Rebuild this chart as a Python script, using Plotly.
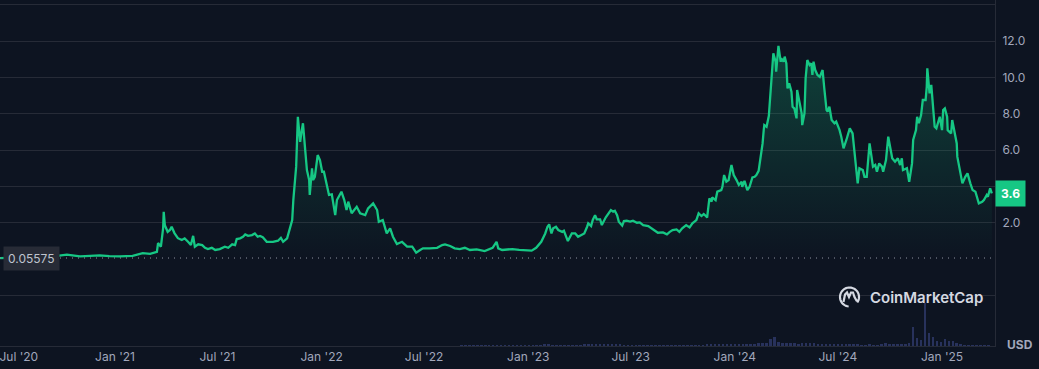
import numpy as np
import pandas as pd
import plotly.graph_objects as go

# ---------------- data ----------------
dates = [
 "2020-06-12","2020-06-28","2020-07-15","2020-08-05","2020-08-25","2020-09-14","2020-10-08","2020-10-31",
 "2020-11-18","2020-12-05","2020-12-22","2021-01-09","2021-02-01","2021-02-14","2021-02-19","2021-03-04",
 "2021-03-16","2021-03-18","2021-03-23","2021-03-27","2021-03-28","2021-03-30","2021-04-04","2021-04-08",
 "2021-04-11","2021-04-16","2021-04-22","2021-04-29","2021-05-04","2021-05-10","2021-05-15","2021-05-19",
 "2021-05-22","2021-05-28","2021-06-04","2021-06-09","2021-06-14","2021-06-21","2021-06-27","2021-07-05",
 "2021-07-14","2021-07-20","2021-07-27","2021-08-01","2021-08-04","2021-08-10","2021-08-15","2021-08-19",
 "2021-08-24","2021-08-31","2021-09-05","2021-09-10","2021-09-14","2021-09-19","2021-09-26","2021-10-07",
 "2021-10-16","2021-10-21","2021-10-25","2021-11-01","2021-11-04","2021-11-10","2021-11-12","2021-11-17",
 "2021-11-20","2021-11-24","2021-11-27","2021-11-29","2021-12-03","2021-12-06","2021-12-10","2021-12-11",
 "2021-12-15","2021-12-17","2021-12-20","2021-12-25","2021-12-29","2022-01-02","2022-01-05","2022-01-10",
 "2022-01-14","2022-01-19","2022-01-25","2022-01-28","2022-02-02","2022-02-05","2022-02-10","2022-02-14",
 "2022-02-17","2022-02-23","2022-03-04","2022-03-10","2022-03-19","2022-03-24","2022-04-02","2022-04-09",
 "2022-04-12","2022-04-19","2022-04-26","2022-05-02","2022-05-07","2022-05-14","2022-05-23","2022-06-01",
 "2022-06-10","2022-06-17","2022-06-24","2022-06-29","2022-07-11","2022-07-24","2022-08-02","2022-08-07",
 "2022-08-16","2022-08-24","2022-09-02","2022-09-11","2022-09-20","2022-10-02","2022-10-16","2022-10-25",
 "2022-10-30","2022-11-06","2022-11-09","2022-11-16","2022-11-25","2022-12-04","2022-12-16","2022-12-29",
 "2023-01-07","2023-01-15","2023-01-24","2023-01-31","2023-02-04","2023-02-07","2023-02-11","2023-02-14",
 "2023-02-19","2023-02-23","2023-03-02","2023-03-05","2023-03-09","2023-03-12","2023-03-19","2023-03-25",
 "2023-03-30","2023-04-06","2023-04-10","2023-04-15","2023-04-17","2023-04-22","2023-04-25","2023-04-29",
 "2023-05-02","2023-05-08","2023-05-11","2023-05-18","2023-05-22","2023-05-27","2023-05-31","2023-06-03",
 "2023-06-07","2023-06-10","2023-06-16","2023-06-19","2023-06-24","2023-06-30","2023-07-05","2023-07-12",
 "2023-07-17","2023-07-23","2023-08-01","2023-08-09","2023-08-18","2023-08-27","2023-09-03","2023-09-08",
 "2023-09-13","2023-09-20","2023-09-25","2023-09-30","2023-10-07","2023-10-13","2023-10-18","2023-10-25",
 "2023-10-29","2023-11-03","2023-11-07","2023-11-12","2023-11-13","2023-11-17","2023-11-21","2023-11-22",
 "2023-11-28","2023-12-01","2023-12-08","2023-12-10","2023-12-13","2023-12-17","2023-12-21","2023-12-26",
 "2023-12-30","2024-01-04","2024-01-08","2024-01-13","2024-01-14","2024-01-18","2024-01-23","2024-01-27",
 "2024-02-01","2024-02-05","2024-02-08","2024-02-12","2024-02-15","2024-02-19","2024-02-21","2024-02-22",
 "2024-02-26","2024-03-01","2024-03-06","2024-03-09","2024-03-13","2024-03-14","2024-03-18","2024-03-22",
 "2024-03-23","2024-03-27","2024-03-29","2024-04-01","2024-04-03","2024-04-06","2024-04-10","2024-04-12",
 "2024-04-15","2024-04-19","2024-04-20","2024-04-24","2024-04-28","2024-04-29","2024-05-03","2024-05-05",
 "2024-05-08","2024-05-12","2024-05-15","2024-05-17","2024-05-19","2024-05-22","2024-05-26","2024-05-30",
 "2024-06-02","2024-06-04","2024-06-07","2024-06-11","2024-06-13","2024-06-16","2024-06-20","2024-06-25",
 "2024-06-28","2024-07-04","2024-07-07","2024-07-11","2024-07-16","2024-07-22","2024-07-27","2024-07-30",
 "2024-08-03","2024-08-05","2024-08-08","2024-08-14","2024-08-17","2024-08-21","2024-08-26","2024-09-01",
 "2024-09-05","2024-09-08","2024-09-12","2024-09-17","2024-09-19","2024-09-24","2024-09-28","2024-10-01",
 "2024-10-05","2024-10-10","2024-10-15","2024-10-19","2024-10-22","2024-10-24","2024-10-31","2024-11-04",
 "2024-11-09","2024-11-11","2024-11-16","2024-11-18","2024-11-21","2024-11-25","2024-11-28","2024-12-03",
 "2024-12-05","2024-12-06","2024-12-10","2024-12-13","2024-12-15","2024-12-19","2024-12-22","2024-12-28",
 "2025-01-01","2025-01-03","2025-01-06","2025-01-10","2025-01-11","2025-01-17","2025-01-19","2025-01-24",
 "2025-01-27","2025-01-28","2025-02-03","2025-02-06","2025-02-11","2025-02-15","2025-02-20","2025-02-24",
 "2025-03-01","2025-03-07","2025-03-13","2025-03-16","2025-03-21","2025-03-23","2025-03-27","2025-03-30",
]
prices = [
 0.056,0.07,0.09,0.12,0.11,0.15,0.24,0.15,
 0.17,0.20,0.16,0.15,0.18,0.26,0.33,0.29,
 0.40,0.88,0.68,1.70,2.60,1.87,1.50,1.60,
 1.78,1.43,1.15,1.05,1.14,0.95,0.77,1.28,
 0.68,0.81,0.77,0.62,0.55,0.62,0.50,0.55,
 0.68,0.62,0.81,0.77,1.10,1.14,1.23,1.36,
 1.28,1.32,1.41,1.23,1.27,1.20,0.95,0.95,
 1.01,1.17,0.95,1.14,1.50,2.15,3.25,5.09,
 7.84,6.46,7.10,7.48,6.00,4.90,4.35,3.53,
 5.00,4.35,4.53,5.73,5.45,4.81,4.81,3.98,
 3.53,3.56,2.42,3.25,3.53,3.71,3.25,2.70,
 3.16,2.52,2.88,2.52,2.42,2.79,3.07,2.70,
 2.05,2.15,1.41,1.69,1.23,0.83,0.95,0.68,
 0.68,0.35,0.50,0.59,0.59,0.62,0.77,0.81,
 0.72,0.59,0.55,0.62,0.50,0.53,0.44,0.53,
 0.62,0.95,0.59,0.50,0.53,0.55,0.50,0.46,
 0.46,0.62,0.95,1.41,1.78,1.91,1.41,1.69,
 1.78,1.60,1.50,1.56,1.27,0.99,1.41,1.41,
 1.23,1.32,1.41,1.78,1.97,1.82,2.15,2.42,
 2.19,2.19,1.87,2.30,2.48,2.70,2.61,2.66,
 2.42,2.06,1.84,2.09,2.11,2.06,2.11,2.00,
 2.02,1.87,1.82,1.65,1.45,1.47,1.36,1.50,
 1.60,1.63,1.50,1.69,1.87,1.74,1.97,2.15,
 2.52,2.37,2.48,2.33,2.28,3.34,3.16,3.40,
 3.25,3.71,3.80,3.98,4.63,4.26,4.35,5.18,
 4.63,4.35,4.08,4.26,3.98,4.31,3.80,3.98,
 4.50,4.53,4.63,4.86,5.45,6.37,7.10,7.38,
 7.29,7.88,10.04,11.33,10.87,10.32,11.74,10.87,
 11.06,10.87,11.15,10.78,9.40,9.68,9.22,8.39,
 8.30,7.75,9.31,8.76,8.03,7.38,8.03,9.96,
 10.96,10.69,10.78,10.14,10.87,10.41,10.14,10.04,
 10.22,10.41,9.40,8.21,8.12,8.39,7.66,7.48,
 7.57,7.10,6.74,6.10,6.56,7.20,6.92,6.00,
 4.90,4.17,5.00,4.90,4.53,4.53,6.37,5.09,
 5.18,4.81,5.27,5.09,4.81,5.45,6.74,6.28,
 5.55,5.36,5.55,5.18,5.55,4.90,5.00,4.26,
 5.27,6.56,7.10,7.84,7.48,7.93,8.76,8.76,
 9.49,10.51,9.13,9.59,8.94,7.29,7.20,7.84,
 7.10,8.21,8.30,7.84,7.10,6.92,7.66,6.74,
 6.37,5.64,4.72,4.17,4.53,4.72,4.17,3.80,
 3.71,3.07,3.16,3.25,3.53,3.43,3.90,3.62,
]

# weekly trading volume (million USD), weeks starting 2022-09-05
vol_start = "2022-09-05"
volumes = [
 9,9,9,9,9,9,9,12,15,30,15,9,9,9,9,9,9,9,
 12,18,24,36,45,30,24,24,21,30,18,18,18,36,54,45,75,45,45,66,45,36,54,24,18,15,
 12,12,12,12,12,9,9,9,9,12,12,12,15,18,21,24,30,24,36,45,36,45,54,45,60,
 54,60,75,75,66,60,84,90,105,210,270,120,90,90,96,90,75,84,105,90,84,75,66,60,54,60,
 45,54,60,45,45,54,30,30,45,30,30,45,90,75,60,60,60,60,90,570,240,180,1290,390,270,150,120,
 210,150,150,90,60,20,15,12,10,9,9,9,
]
vol_dates = pd.date_range(vol_start, periods=len(volumes), freq="7D")

first_price = 0.05575
last_price = 3.6

tick_dates = ["2020-07-15", "2021-01-01", "2021-07-01", "2022-01-01", "2022-07-01",
              "2023-01-01", "2023-07-01", "2024-01-01", "2024-07-01", "2025-01-01"]
tick_labels = ["Jul '20", "Jan '21", "Jul '21", "Jan '22", "Jul '22",
               "Jan '23", "Jul '23", "Jan '24", "Jul '24", "Jan '25"]
y_tickvals = [-2, 2, 4, 6, 8, 10, 12, 14]
# the 4.0 label sits under the current-price badge in the reference
y_ticktext = ["", "2.0", "", "6.0", "8.0", "10.0", "12.0", ""]

# ---------------- style ----------------
BG = "#0d1421"
GRID = "#262b37"
GREEN = "#16c784"
TXT = "#a1a7bb"
FONT = "Inter"

W, H = 1039, 369
ML, MR, MT, MB = 0, 44, 0, 23
PW, PH = W - ML - MR, H - MT - MB

def px(x):  # pixel x -> paper
    return (x - ML) / PW

def py(y):  # pixel y -> paper
    return (H - MB - y) / PH

fig = go.Figure()

fig.add_trace(go.Bar(
    x=vol_dates, y=volumes, yaxis="y2",
    marker=dict(color="#28325c", line=dict(width=0)),
    width=4.5 * 86400000, hoverinfo="skip", showlegend=False,
))

fig.add_trace(go.Scatter(
    x=dates, y=prices, mode="lines",
    line=dict(color=GREEN, width=2.3),
    fill="tozeroy",
    fillgradient=dict(type="vertical",
                      colorscale=[[0, "rgba(22,199,132,0.0)"], [1, "rgba(22,199,132,0.26)"]],
                      start=0, stop=12),
    showlegend=False,
))

# reference dotted line at first price
fig.add_shape(type="line", xref="paper", x0=0, x1=1, yref="y", y0=first_price, y1=first_price,
              line=dict(color="#8f95a3", width=1, dash="1px,5px"), layer="above")

# CoinMarketCap logo (decorative)
cx, cy, r = 849.5, 297, 9.5
ang = np.linspace(np.deg2rad(-35), np.deg2rad(-35) + np.deg2rad(300), 40)
pts = [(cx + r * np.cos(a), cy - r * np.sin(a)) for a in ang]
path = "M " + " L ".join(f"{px(x):.5f},{py(y):.5f}" for x, y in pts)
fig.add_shape(type="path", xref="paper", yref="paper", path=path,
              line=dict(color="#d5d9e2", width=2.2), layer="above")
wave = [(843.5, 302), (845, 294.5), (847, 292.5), (849, 297), (851, 292.5), (853, 292.5), (854.5, 297), (856.5, 300.5), (859, 301)]
path2 = "M " + " L ".join(f"{px(x):.5f},{py(y):.5f}" for x, y in wave)
fig.add_shape(type="path", xref="paper", yref="paper", path=path2,
              line=dict(color="#d5d9e2", width=2.2), layer="above")

annotations = [
    dict(text="CoinMarketCap", xref="paper", yref="paper", x=px(868), y=py(297),
         xanchor="left", yanchor="middle", showarrow=False,
         font=dict(family=FONT, size=15, color="#d5d9e2", weight=600)),
    dict(text="0.05575", xref="paper", yref="y", x=px(3), y=first_price,
         xanchor="left", yanchor="middle", showarrow=False, bgcolor="#272b36",
         borderpad=4, font=dict(family=FONT, size=12, color="#bfc4ce")),
    dict(text="<b>3.6</b>", xref="paper", yref="y", x=1.0, y=last_price,
         xanchor="left", yanchor="middle", showarrow=False, bgcolor=GREEN,
         borderpad=5, font=dict(family=FONT, size=12, color="#ffffff")),
    dict(text="<b>USD</b>", xref="paper", yref="paper", x=px(1020), y=py(344),
         xanchor="center", yanchor="middle", showarrow=False,
         font=dict(family=FONT, size=12, color=TXT)),
]

fig.update_layout(
    width=W, height=H,
    margin=dict(l=ML, r=MR, t=MT, b=MB),
    paper_bgcolor=BG, plot_bgcolor=BG,
    font=dict(family=FONT, size=12, color=TXT),
    showlegend=False,
    bargap=0,
    annotations=annotations,
    xaxis=dict(
        type="date",
        range=["2020-06-11 19:00", "2025-04-04 14:00"],
        tickvals=tick_dates, ticktext=tick_labels,
        showgrid=False, zeroline=False,
        showline=True, linecolor=GRID, linewidth=1,
        ticks="", ticklabeloverflow="allow",
        tickfont=dict(family=FONT, size=12, color=TXT),
    ),
    yaxis=dict(
        side="right",
        range=[-4.79, 14.27],
        tickvals=y_tickvals, ticktext=y_ticktext,
        showgrid=True, gridcolor=GRID, gridwidth=1,
        zeroline=False,
        showline=True, linecolor=GRID, linewidth=1,
        ticks="", ticklabelstandoff=4,
        tickfont=dict(family=FONT, size=12, color=TXT),
    ),
    yaxis2=dict(
        overlaying="y", side="left", range=[0, 10380],
        showgrid=False, zeroline=False, showticklabels=False, showline=False,
    ),
)

fig.write_html("out.html",
               config={"displayModeBar": False},
               post_script="document.body.style.margin='0';document.body.style.background='#0d1421';document.body.style.overflow='hidden';")
